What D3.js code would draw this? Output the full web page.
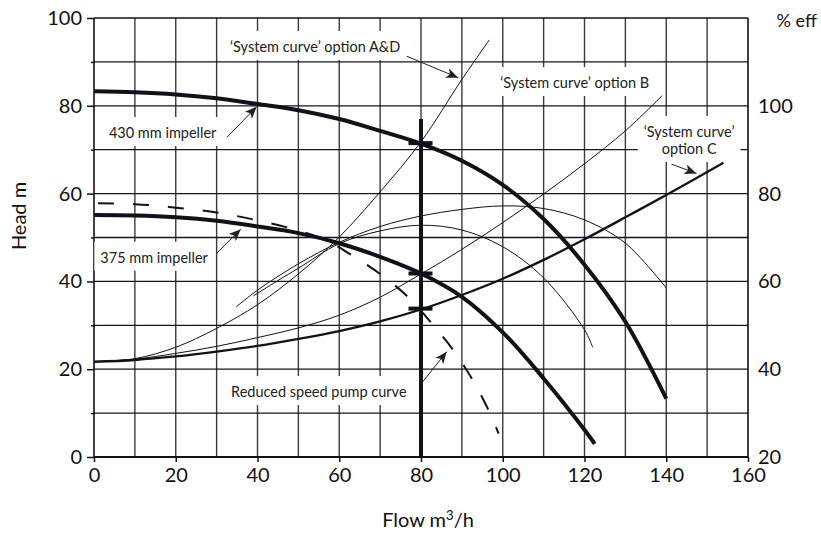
<!DOCTYPE html>
<html><head><meta charset="utf-8">
<script src="https://cdn.jsdelivr.net/npm/d3@7"></script>
<style>
html,body{margin:0;padding:0;background:#fff;}
svg{display:block;font-family:Lato,"Open Sans",sans-serif;}
</style></head>
<body><svg id="chart" width="821" height="533"></svg>
<script>
// ---- data ----
const flowTicks = [0,20,40,60,80,100,120,140,160];
const headTicks = [0,20,40,60,80,100];
const headMinorTicks = [10,30,50,70,90];
const effTicks = [20,40,60,80,100];
const flowGrid = [10,20,30,40,50,60,70,80,90,100,110,120,130,140,150];
const headGrid = [10,20,30,40,50,60,70,80,90];

const impeller430 = [[0,83.3],[10,83.1],[20,82.6],[30,81.7],[40,80.4],[50,79.0],[60,77.0],[70,74.3],[80,71.4],[90,67.5],[100,62],[110,54.2],[120,43.8],[130,30.8],[140,13.3]];
const impeller375 = [[0,55.1],[10,55],[20,54.6],[30,53.8],[40,52.5],[50,51],[60,48.7],[70,45.6],[80,41.8],[90,36.5],[100,28.4],[110,17.9],[120,6.2],[122.5,3]];
const reducedSpeed = [[0,57.8],[10,57.6],[20,56.8],[30,55.7],[40,53.9],[50,51.6],[57,49.3],[63,46],[70,41.7],[77,36.3],[83,30],[88,24.2],[93,17],[96.5,10.7],[99,5.3]];
const systemAD = [[0,21.7],[10,22.4],[20,25],[30,29.3],[40,34.7],[50,41.7],[60,50.1],[70,60.4],[80,71.8],[90,86],[96.7,95]];
const systemB = [[0,21.7],[10,22.3],[20,23.6],[30,25.2],[40,27.2],[50,29.4],[60,32.3],[70,36.4],[80,41.7],[90,47.3],[100,53.4],[110,59.9],[120,66.8],[130,74.3],[139,82.3]];
const systemC = [[0,21.7],[10,22.1],[20,22.9],[30,24],[40,25.3],[50,26.9],[60,28.7],[70,30.9],[80,33.6],[90,36.9],[100,40.6],[110,44.9],[120,49.6],[130,54.6],[140,59.7],[154,67]];
// efficiency curves in % eff
const eff430 = [[34.8,54.2],[40,58],[50,64],[60,68.9],[70,72.5],[80,74.9],[90,76.4],[100,77.2],[110,76.6],[120,74],[130,68.7],[140,58.5]];
const eff375 = [[39,56.7],[45,60.2],[50,63],[60,68.6],[70,71.5],[80,72.8],[90,71.7],[100,67.9],[110,60.8],[120,49],[122,45]];
const dutyFlow = 80;
const dutyTop = 77;
const dutyHeads = [71.5, 41.8, 33.8];

// annotations: text lines with anchor (flow, head); arrows [fromFlow, fromHead, toFlow, toHead]
const labels = [
  {lines:["\u2018System curve\u2019 option A&D"], at:[54.1,93.4]},
  {lines:["\u2018System curve\u2019 option B"], at:[117.6,85.2]},
  {lines:["430 mm impeller"], at:[16.8,73.8]},
  {lines:["375 mm impeller"], at:[14.7,45.4]},
  {lines:["\u2018System curve\u2019","option C"], at:[145.6,72.1]},
  {lines:["Reduced speed pump curve"], at:[55.0,14.8]}
];
const arrows = [
  [76.5,91.3,89.1,86.4],
  [32.5,72.8,39.8,79.8],
  [30.0,46.4,35.9,51.9],
  [141.3,66.7,147.4,64.6],
  [79.8,16.4,86.3,24.0]
];

// ---- drawing ----
const svg = d3.select("#chart");
const x = d3.scaleLinear().domain([0,160]).range([94,748]);
const y = d3.scaleLinear().domain([0,100]).range([457,18]);
const yEff = d3.scaleLinear().domain([20,120]).range([457,18]);
const ink = "#111118";

// grid
svg.append("g").selectAll("line").data(flowGrid).join("line")
  .attr("x1",d=>x(d)).attr("x2",d=>x(d)).attr("y1",y(0)).attr("y2",y(100))
  .attr("stroke","#3a3a46").attr("stroke-width",1.4);
svg.append("g").selectAll("line").data(headGrid).join("line")
  .attr("x1",x(0)).attr("x2",x(160)).attr("y1",d=>y(d)).attr("y2",d=>y(d))
  .attr("stroke","#15151f").attr("stroke-width",1.3);

// frame
svg.append("line").attr("x1",x(0)).attr("x2",x(160)).attr("y1",y(100)).attr("y2",y(100)).attr("stroke",ink).attr("stroke-width",1.4);
svg.append("line").attr("x1",x(0)).attr("x2",x(160)).attr("y1",y(0)).attr("y2",y(0)).attr("stroke",ink).attr("stroke-width",2.2);
svg.append("line").attr("x1",x(0)).attr("x2",x(0)).attr("y1",y(0)).attr("y2",y(100)).attr("stroke",ink).attr("stroke-width",1.6);
svg.append("line").attr("x1",x(160)).attr("x2",x(160)).attr("y1",y(0)).attr("y2",y(100)).attr("stroke",ink).attr("stroke-width",1.6);

// axes
const axL = svg.append("g").attr("transform",`translate(${x(0)},0)`)
  .call(d3.axisLeft(y).tickValues(headTicks).tickSize(7).tickPadding(5));
const axLm = svg.append("g").attr("transform",`translate(${x(0)},0)`)
  .call(d3.axisLeft(y).tickValues(headMinorTicks).tickSize(3).tickFormat(""));
const axB = svg.append("g").attr("transform",`translate(0,${y(0)})`)
  .call(d3.axisBottom(x).tickValues(flowTicks).tickSize(5).tickPadding(6));
const axR = svg.append("g").attr("transform",`translate(${x(160)},0)`)
  .call(d3.axisRight(yEff).tickValues(effTicks).tickSize(0).tickPadding(10));
[axL,axLm,axB,axR].forEach(g=>{
  g.select(".domain").remove();
  g.selectAll("line").attr("stroke",ink).attr("stroke-width",1.5);
  g.selectAll("text").attr("font-family","Lato").attr("font-size",20).attr("fill","#111");
});

// white label boxes
const lg = svg.append("g");
labels.forEach(l=>{
  const g = lg.append("g");
  const lh = 17;
  const cx = x(l.at[0]), cy = y(l.at[1]);
  const n = l.lines.length;
  l.lines.forEach((t,i)=> g.append("text")
    .attr("x",cx).attr("y",cy + (i-(n-1)/2)*lh).attr("dy","0.35em")
    .attr("text-anchor","middle").attr("font-family","Lato").attr("font-size",14.5)
    .attr("fill","#222").text(t));
  const bb = g.node().getBBox();
  g.insert("rect","text").attr("x",bb.x-6).attr("y",bb.y-7).attr("width",bb.width+12).attr("height",bb.height+12).attr("fill","#fff");
});

// curves
const line = d3.line().x(d=>x(d[0])).y(d=>y(d[1])).curve(d3.curveCatmullRom.alpha(0.5));
const effLine = d3.line().x(d=>x(d[0])).y(d=>yEff(d[1])).curve(d3.curveCatmullRom.alpha(0.5));
const cg = svg.append("g").attr("fill","none").attr("stroke",ink).attr("stroke-linecap","butt");
cg.append("path").attr("d",line(systemAD)).attr("stroke-width",1);
cg.append("path").attr("d",line(systemB)).attr("stroke-width",1);
cg.append("path").attr("d",effLine(eff430)).attr("stroke-width",1);
cg.append("path").attr("d",effLine(eff375)).attr("stroke-width",1);
cg.append("path").attr("d",line(systemC)).attr("stroke-width",2.3);
cg.append("path").attr("d",line(reducedSpeed)).attr("stroke-width",2).attr("stroke-dasharray","16,19").attr("stroke-dashoffset",-4);
cg.append("path").attr("d",line(impeller430)).attr("stroke-width",4);
cg.append("path").attr("d",line(impeller375)).attr("stroke-width",4);

// duty line and markers
svg.append("line").attr("x1",x(dutyFlow)).attr("x2",x(dutyFlow)).attr("y1",y(0)).attr("y2",y(dutyTop))
  .attr("stroke",ink).attr("stroke-width",4);
svg.append("g").selectAll("line").data(dutyHeads).join("line")
  .attr("x1",x(dutyFlow)-12.5).attr("x2",x(dutyFlow)+11.5).attr("y1",d=>y(d)).attr("y2",d=>y(d))
  .attr("stroke",ink).attr("stroke-width",4);

// arrows
const defs = svg.append("defs");
defs.append("marker").attr("id","ah").attr("markerUnits","userSpaceOnUse")
  .attr("viewBox","0 0 12 10").attr("refX",12).attr("refY",5)
  .attr("markerWidth",13).attr("markerHeight",10).attr("orient","auto")
  .append("path").attr("d","M0,0 L12,5 L0,10 L3,5 Z").attr("fill","#222");
svg.append("g").selectAll("line").data(arrows).join("line")
  .attr("x1",d=>x(d[0])).attr("y1",d=>y(d[1])).attr("x2",d=>x(d[2])).attr("y2",d=>y(d[3]))
  .attr("stroke","#222").attr("stroke-width",1).attr("marker-end","url(#ah)");

// axis titles
svg.append("text").attr("transform",`translate(26,216) rotate(-90)`)
  .attr("text-anchor","middle").attr("font-family","Lato").attr("font-size",20).attr("fill","#111").text("Head m");
const ft = svg.append("text").attr("x",428).attr("y",527).attr("text-anchor","middle")
  .attr("font-family","Lato").attr("font-size",20).attr("fill","#111");
ft.append("tspan").text("Flow m");
ft.append("tspan").attr("font-size",13).attr("dy",-7).text("3");
ft.append("tspan").attr("dy",7).text("/h");
svg.append("text").attr("x",817).attr("y",27).attr("text-anchor","end")
  .attr("font-family","Lato").attr("font-size",18).attr("fill","#111").text("% eff");
</script></body></html>
